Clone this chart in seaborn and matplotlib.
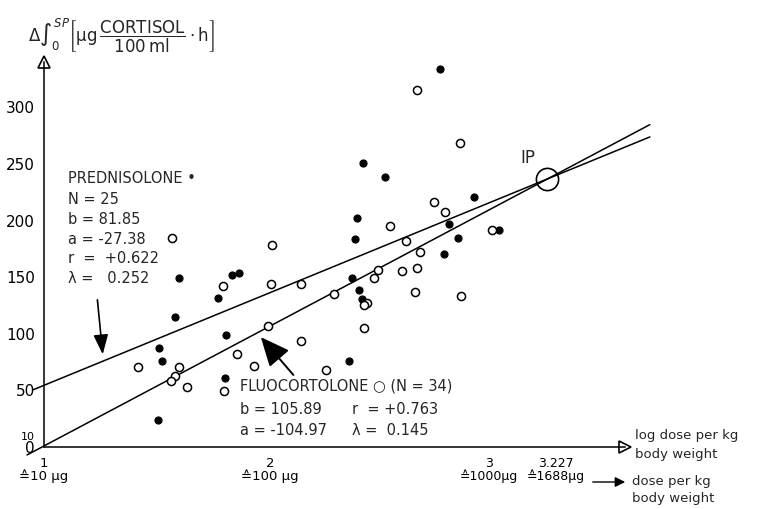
import matplotlib
matplotlib.use("Agg")
import matplotlib.pyplot as plt
import matplotlib.transforms as mtransforms
import seaborn as sns
import pandas as pd

# log dose (x) and cortisol area (y)
pred_x = [2.752, 2.509, 2.903, 2.792, 2.832, 2.770, 3.013, 2.412, 2.385, 2.376,
          2.363, 2.394, 2.407, 2.350, 1.597, 1.832, 1.863, 1.770, 1.580, 1.805,
          1.509, 1.522, 1.801, 1.504]
pred_y = [333.6, 238.3, 220.7, 196.8, 184.5, 170.3, 191.5, 250.7, 202.1, 183.6,
          149.2, 138.6, 130.6, 75.9, 149.2, 151.8, 153.6, 131.5, 114.7, 98.9,
          87.4, 75.9, 60.9, 23.8]

fluo_x = [2.650, 2.841, 2.726, 2.774, 2.531, 2.602, 2.982, 2.664, 2.584, 2.650,
          2.642, 2.845, 2.478, 2.460, 2.137, 2.283, 2.429, 2.416, 2.416, 2.137,
          1.792, 2.004, 1.991, 1.854, 1.929, 2.248, 1.796, 1.597, 1.580, 1.562,
          1.633, 1.416, 1.566, 2.009]
fluo_y = [315.1, 268.3, 216.2, 207.4, 195.1, 181.8, 191.5, 172.1, 155.3, 158.0,
          136.8, 133.3, 156.2, 149.2, 143.9, 135.0, 127.1, 125.3, 105.0, 93.6,
          142.1, 143.9, 106.8, 82.1, 71.5, 68.0, 49.4, 70.6, 62.7, 58.3,
          53.0, 70.6, 184.5, 178.3]

# regression parameters printed on the chart (y = a + b * x)
pred_a, pred_b = -27.38, 81.85
fluo_a, fluo_b = -104.97, 105.89
pred_span = [0.95, 3.68]
fluo_span = [0.925, 3.68]
ip_x = 3.227

y_ticks = [0, 10, 50, 100, 150, 200, 250, 300]
x_ticks = [1, 2, 3, 3.227]
x_labels = ["1\n\u225910 \u00b5g", "2\n\u2259100 \u00b5g", "3\n\u22591000\u00b5g", "3.227\n\u22591688\u00b5g"]

sns.set_style("white")
plt.rcParams["font.family"] = ["DejaVu Sans"]

fig = plt.figure(figsize=(7.64, 5.09), dpi=100)
ax = fig.add_axes([44 / 764, 62 / 509, (625 - 44) / 764, (447 - 62) / 509])

pred = pd.DataFrame({"x": pred_x, "y": pred_y})
fluo = pd.DataFrame({"x": fluo_x, "y": fluo_y})
sns.scatterplot(data=pred, x="x", y="y", ax=ax, color="black", s=26,
                edgecolor="black", linewidth=0.8, zorder=3)
sns.scatterplot(data=fluo, x="x", y="y", ax=ax, facecolor="white", s=34,
                edgecolor="black", linewidth=1.1, zorder=3)

# regression lines
for a, b, span in [(pred_a, pred_b, pred_span), (fluo_a, fluo_b, fluo_span)]:
    line = pd.DataFrame({"x": span, "y": [a + b * v for v in span]})
    sns.lineplot(data=line, x="x", y="y", ax=ax, color="black", lw=1.1)
for l in ax.lines:
    l.set_clip_on(False)

# intersection point
ip_y = pred_a + pred_b * ip_x
ax.plot([ip_x], [ip_y], marker="o", ms=16, mfc="none", mec="black", mew=1.2,
        clip_on=False, zorder=4)
ax.text(3.142, 255, "IP", fontsize=12, ha="center", va="center")

ax.set_xlim(1, 3.57)
ax.set_ylim(0, 340)
sns.despine(ax=ax)
for s in ["left", "bottom"]:
    ax.spines[s].set_linewidth(1.1)
    ax.spines[s].set_color("black")
ax.plot([3.57], [0], marker=">", ms=8, mfc="white", mec="black", mew=1.2, clip_on=False)
ax.plot([1], [340], marker="^", ms=8, mfc="white", mec="black", mew=1.2, clip_on=False)

ax.set_yticks(y_ticks)
ax.set_yticklabels([str(t) for t in y_ticks])
ax.set_xticks(x_ticks)
ax.set_xticklabels(x_labels, linespacing=1.0)
ax.tick_params(axis="both", direction="inout", length=6, width=1, colors="black",
               labelsize=11)
ax.tick_params(axis="x", labelsize=9.5, pad=4)
for lab in ax.get_yticklabels():
    if lab.get_text() == "10":
        lab.set_fontsize(8)
# nudge the two crowded labels apart
shifts = {2: -5 / 72, 3: 6 / 72}
for i, lab in enumerate(ax.get_xticklabels()):
    if i in shifts:
        lab.set_transform(lab.get_transform() +
                          mtransforms.ScaledTranslation(shifts[i], 0, fig.dpi_scale_trans))
        lab.set_fontsize(9)
ax.set_xlabel("")
ax.set_ylabel("")

# y axis title
fig.text(28 / 764, 1 - 36 / 509,
         r"$\Delta\int_{0}^{SP}\left[\mathrm{\mu g}\,\dfrac{\mathrm{CORTISOL}}{\mathrm{100\,ml}}\cdot\mathrm{h}\right]$",
         fontsize=12, ha="left", va="center")

# prednisolone block
pred_lines = ["PREDNISOLONE \u2022", "N = 25", "b = 81.85", "a = -27.38",
              "r  =  +0.622", "\u03bb =   0.252"]
pred_text_y = [237.4, 218.9, 201.2, 183.6, 166.8, 149.2]
for t, yy in zip(pred_lines, pred_text_y):
    ax.text(1.106, yy, t, fontsize=10.5, ha="left", va="center")
ax.annotate("", xy=(1.261, 79.4), xytext=(1.235, 132.4),
            arrowprops=dict(arrowstyle="-|>,head_length=1.2,head_width=0.45",
                            color="black", lw=1.2))

# fluocortolone block
ax.text(1.867, 53.8, "FLUOCORTOLONE \u25cb (N = 34)", fontsize=10.5, ha="left", va="center")
ax.text(1.867, 32.7, "b = 105.89", fontsize=10.5, ha="left", va="center")
ax.text(1.867, 15.0, "a = -104.97", fontsize=10.5, ha="left", va="center")
ax.text(2.363, 32.7, "r  = +0.763", fontsize=10.5, ha="left", va="center")
ax.text(2.363, 15.0, "\u03bb =  0.145", fontsize=10.5, ha="left", va="center")
ax.annotate("", xy=(1.951, 98.9), xytext=(2.111, 61.8),
            arrowprops=dict(arrowstyle="-|>,head_length=1.8,head_width=0.8",
                            color="black", lw=1.4))

# axis captions on the right
fig.text(635 / 764, 1 - 445 / 509, "log dose per kg\nbody weight", fontsize=9.5,
         ha="left", va="center", linespacing=1.6)
fig.text(632 / 764, 1 - 490 / 509, "dose per kg\nbody weight", fontsize=9.5,
         ha="left", va="center", linespacing=1.4)
fig.patches.append(matplotlib.patches.FancyArrowPatch(
    (590 / 764, 1 - 482 / 509), (628 / 764, 1 - 482 / 509), transform=fig.transFigure,
    arrowstyle="-|>,head_length=0.6,head_width=0.3", color="black", lw=1,
    mutation_scale=10, figure=fig))

fig.savefig("out.png", dpi=100)
